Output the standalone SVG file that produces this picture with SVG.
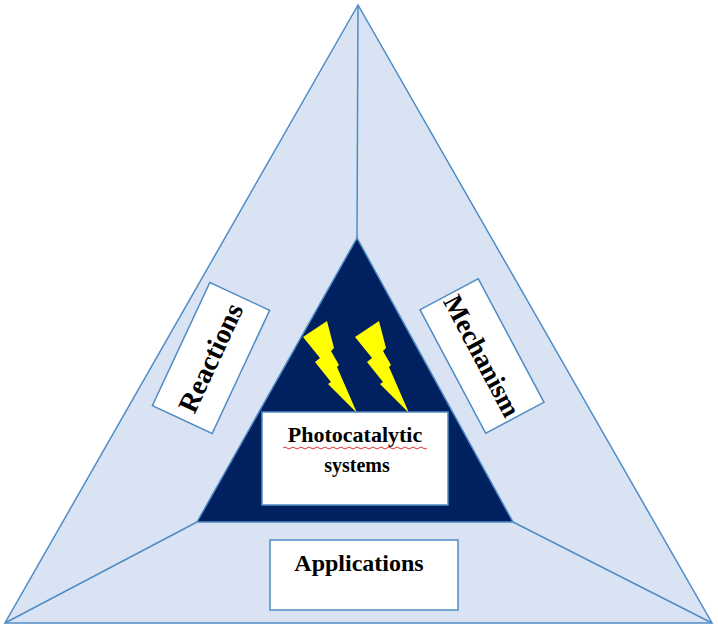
<svg xmlns="http://www.w3.org/2000/svg" width="718" height="630" viewBox="0 0 718 630">
<style>
.ln{stroke:#4f8cc4;stroke-width:1.5;fill:none}
.box{fill:#fff;stroke:#4f8cc4;stroke-width:1.5}
.t{font-family:"Liberation Serif",serif;font-weight:bold;fill:#000;text-anchor:middle}
.bolt{fill:#ffff00}
</style>
<rect width="718" height="630" fill="#fff"/>
<g id="outer"><polygon points="358,5 5,623 712,623" fill="#dae3f3" stroke="#4f8cc4" stroke-width="1.5"/></g>
<g id="connectors">
<line class="ln" x1="357" y1="238" x2="358" y2="5"/>
<line class="ln" x1="197" y1="522" x2="5" y2="623"/>
<line class="ln" x1="513" y1="522" x2="712" y2="623"/>
</g>
<g id="inner"><polygon points="357,238 197,522 513,522" fill="#002060" stroke="#4f8cc4" stroke-width="1.5"/></g>
<g id="bolts">
<polygon class="bolt" points="303,337 327,321 334,348 331,351 339,365 337,367 357,413 328,384 331,382 315,362 320,358"/>
<polygon class="bolt" transform="translate(52,0)" points="303,337 327,321 334,348 331,351 339,365 337,367 357,413 328,384 331,382 315,362 320,358"/>
</g>
<g id="reactions" transform="translate(211,358) rotate(-65)">
<rect class="box" x="-68" y="-33" width="136" height="66"/>
<text class="t" x="0" y="9" font-size="28">Reactions</text>
</g>
<g id="mechanism" transform="translate(482,356) rotate(62)">
<rect class="box" x="-70" y="-33" width="140" height="66"/>
<text class="t" x="0" y="9" font-size="27">Mechanism</text>
</g>
<g id="photo">
<rect class="box" x="262" y="412" width="186" height="93"/>
<text class="t" x="355" y="442" font-size="22">Photocatalytic</text>
<path d="M283,448 q2,-2 4,0 t4,0 t4,0 t4,0 t4,0 t4,0 t4,0 t4,0 t4,0 t4,0 t4,0 t4,0 t4,0 t4,0 t4,0 t4,0 t4,0 t4,0 t4,0 t4,0 t4,0 t4,0 t4,0 t4,0 t4,0 t4,0 t4,0 t4,0 t4,0 t4,0 t4,0 t4,0 t4,0 t4,0 t4,0 t4,0" fill="none" stroke="#e03030" stroke-width="1"/>
<text class="t" x="357" y="472" font-size="20" font-weight="normal" style="font-weight:600">systems</text>
</g>
<g id="applications">
<rect class="box" x="270" y="540" width="188" height="70"/>
<text class="t" x="359" y="571" font-size="24">Applications</text>
</g>
</svg>
